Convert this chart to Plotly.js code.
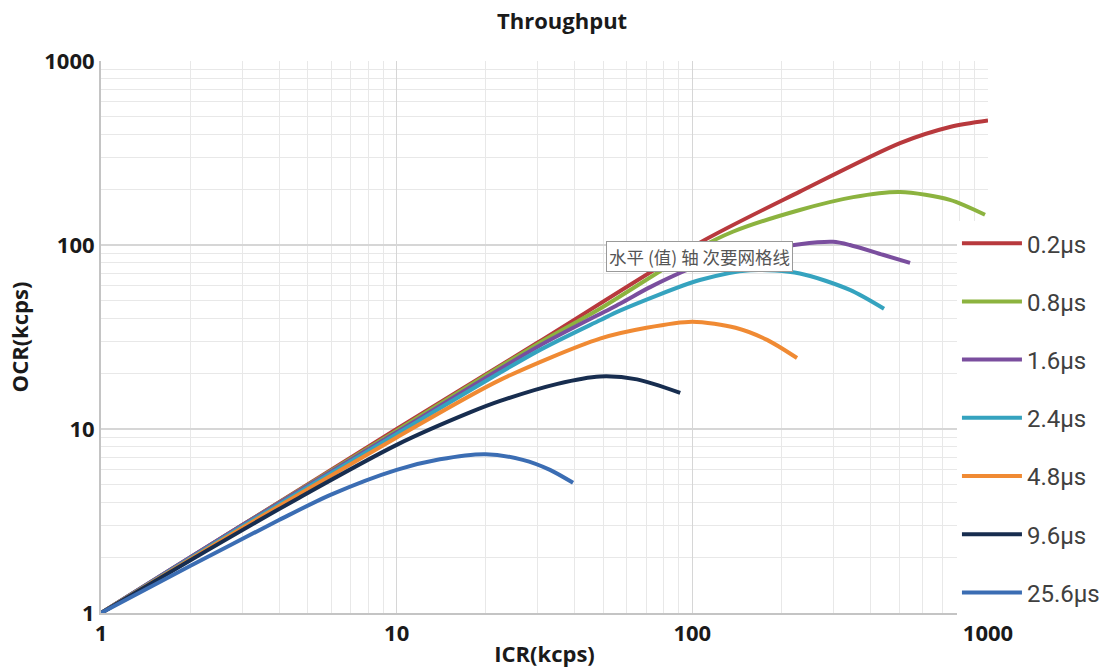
<!DOCTYPE html>
<html>
<head>
<meta charset="utf-8">
<script src="https://cdn.plot.ly/plotly-3.0.1.min.js"></script>
<style>
  html, body { margin: 0; padding: 0; background: #fff; }
  #chart { width: 1100px; height: 668px; }
</style>
</head>
<body>
<div id="chart"></div>
<script>
// dead time settings, one curve each
const seriesNames = ['0.2μs', '0.8μs', '1.6μs', '2.4μs', '4.8μs', '9.6μs', '25.6μs'];

// ICR (kcps) / OCR (kcps)
const icr02 = [1, 3, 10, 30, 106, 231, 504, 743, 1000];
const ocr02 = [1, 3, 10, 29.5, 103, 195, 358, 438, 475];

const icr08 = [1, 3, 10, 30, 48.7, 100, 137, 231, 350, 504, 743, 977];
const ocr08 = [1, 3, 9.8, 29, 45, 92, 118, 155, 182, 194, 176, 146];

const icr16 = [1, 3, 10, 30, 56.9, 72, 100, 150, 231, 299, 341, 441, 545];
const ocr16 = [1, 3, 9.6, 28, 48, 59, 75, 90, 101, 104, 100, 88.5, 80];

const icr24 = [1, 3, 10, 30, 48.7, 56.9, 106, 157, 231, 341, 445];
const ocr24 = [1, 2.95, 9.4, 26.5, 39, 44, 64.5, 73, 70, 57, 45];

const icr48 = [1, 3, 10, 22.4, 48.7, 70, 100, 140, 179, 226];
const ocr48 = [1, 2.9, 9.0, 18.5, 31, 35.5, 38.3, 35.5, 30.5, 24.3];

const icr96 = [1, 2, 4.7, 10, 17.7, 22.4, 35, 48.7, 65, 91];
const ocr96 = [1, 1.93, 4.25, 8.2, 12.3, 14.2, 17.6, 19.3, 18.6, 15.7];

const icr256 = [1, 2, 4, 6, 10, 14, 20, 26.7, 33, 39.5];
const ocr256 = [1, 1.8, 3.2, 4.4, 6.0, 6.85, 7.3, 6.8, 6.0, 5.1];

const tickVals = [1, 10, 100, 1000];
const tickText = ['1', '10', '100', '1000'];

const xs = [icr02, icr08, icr16, icr24, icr48, icr96, icr256];
const ys = [ocr02, ocr08, ocr16, ocr24, ocr48, ocr96, ocr256];
const colors = ['#b8393d', '#8cb33f', '#7a4e9e', '#35a3bf', '#f08a33', '#172d4f', '#3b6db3'];

const traces = seriesNames.map((name, i) => ({
    type: 'scatter',
    mode: 'lines',
    name: name,
    legendgroup: 'g' + i,
    x: xs[i],
    y: ys[i],
    line: { color: colors[i], width: 4, shape: 'spline', smoothing: 0.8 },
    hoverinfo: 'skip',
}));

const tickFont = { family: 'Open Sans, sans-serif', size: 22, color: '#1a1a1a', weight: 'bold' };
const axisBase = {
    type: 'log',
    range: [0, 3],
    tickvals: tickVals,
    ticktext: tickText,
    tickfont: tickFont,
    showgrid: true,
    gridcolor: '#d6d6d6',
    gridwidth: 1.5,
    minor: { dtick: 'D1', showgrid: true, gridcolor: '#e8e8e8', gridwidth: 1 },
    showline: true,
    linecolor: '#c4c4c4',
    linewidth: 2,
    zeroline: false,
    ticks: '',
    fixedrange: true,
};

const layout = {
    width: 1100,
    height: 668,
    margin: { l: 101, r: 112, t: 61, b: 55, autoexpand: false },
    paper_bgcolor: '#ffffff',
    plot_bgcolor: '#ffffff',
    font: { family: 'Open Sans, sans-serif', color: '#1a1a1a' },
    title: {
        text: 'Throughput',
        font: { family: 'Open Sans, sans-serif', size: 22, color: '#1a1a1a', weight: 'bold' },
        x: 0.511, xref: 'container', xanchor: 'center',
        y: 0.968, yref: 'container', yanchor: 'middle',
    },
    xaxis: Object.assign({}, axisBase, {
        title: { text: 'ICR(kcps)', font: { size: 22, weight: 'bold', color: '#1a1a1a' }, standoff: 0 },
    }),
    yaxis: Object.assign({}, axisBase, {
        title: { text: 'OCR(kcps)', font: { size: 22, weight: 'bold', color: '#1a1a1a' }, standoff: 10 },
    }),
    showlegend: true,
    legend: {
        x: 0.965, xanchor: 'left',
        y: 0.71, yanchor: 'top',
        bgcolor: '#ffffff',
        font: { family: 'Roboto, sans-serif', size: 24, color: '#404040' },
        itemwidth: 60,
        tracegroupgap: 24,
        traceorder: 'grouped',
    },
    annotations: [{
        text: '水平 (值) 轴 次要网格线',
        xref: 'paper', yref: 'paper',
        x: 0.675, y: 0.646,
        xanchor: 'center', yanchor: 'middle',
        showarrow: false,
        font: { family: 'Noto Sans CJK SC, sans-serif', size: 17.5, color: '#555555' },
        bgcolor: '#ffffff',
        bordercolor: '#9a9a9a',
        borderwidth: 1,
        borderpad: 2,
    }],
};

Plotly.newPlot('chart', traces, layout, { displayModeBar: false, staticPlot: true });
</script>
</body>
</html>
